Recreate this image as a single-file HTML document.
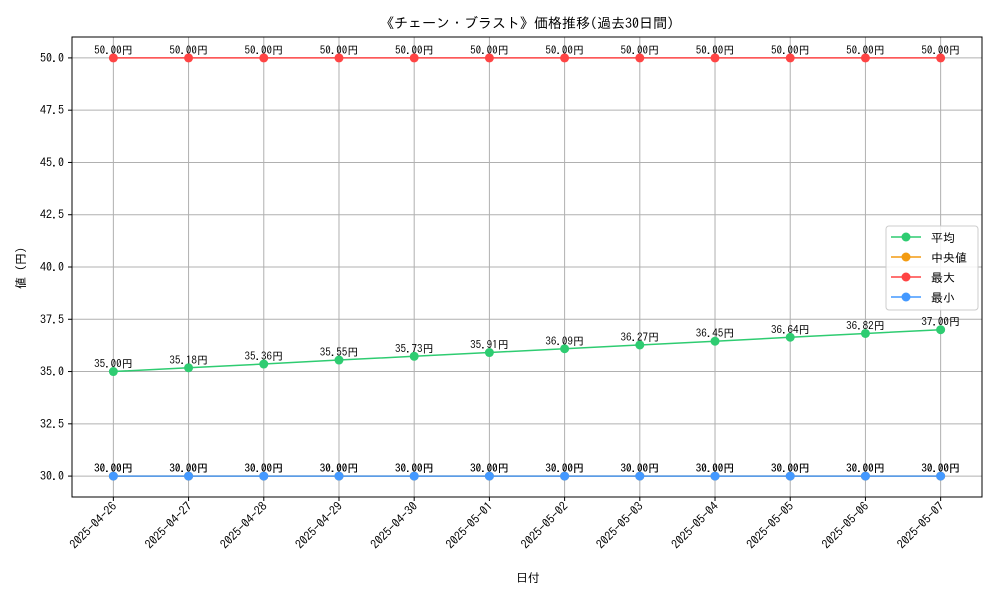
<!DOCTYPE html>
<html><head><meta charset="utf-8"><style>
body{margin:0;background:#fff}
svg{font-family:"IPAGothic","Noto Sans CJK JP",monospace;}
</style></head><body>
<svg id="c" width="1000" height="600">
<rect width="1000" height="600" fill="#fff"/>
</svg>
<script>
const dates=["2025-04-26","2025-04-27","2025-04-28","2025-04-29","2025-04-30","2025-05-01","2025-05-02","2025-05-03","2025-05-04","2025-05-05","2025-05-06","2025-05-07"];
const avgVals=[35.00,35.18,35.36,35.55,35.73,35.91,36.09,36.27,36.45,36.64,36.82,37.00];
const medVals=[30,30,30,30,30,30,30,30,30,30,30,30];
const maxVals=[50,50,50,50,50,50,50,50,50,50,50,50];
const minVals=[30,30,30,30,30,30,30,30,30,30,30,30];
const yTicks=[30.0,32.5,35.0,37.5,40.0,42.5,45.0,47.5,50.0];
const svg=document.getElementById('c');const NS="http://www.w3.org/2000/svg";
const L=72,R=982,T=37,B=497,ymin=29,ymax=51;
const n=dates.length;const step=(R-L)/(n-1+1.1);
const X=i=>L+step*(i+0.55);
const Y=v=>B-(v-ymin)/(ymax-ymin)*(B-T);
function mk(tag,a,p){const e=document.createElementNS(NS,tag);for(const k in a)e.setAttribute(k,a[k]);(p||svg).appendChild(e);return e;}
// grid
yTicks.forEach(v=>{const g=mk('line',{x1:L,x2:R,y1:Y(v),y2:Y(v),stroke:'#b0b0b0','stroke-width':1});


const t=mk('text',{x:L-8,y:Y(v)+4,'text-anchor':'end','font-size':12});t.textContent=v.toFixed(1);


mk('line',{x1:L-4,x2:L,y1:Y(v),y2:Y(v),stroke:'#000'});});
dates.forEach((d,i)=>{const g=mk('line',{x1:X(i),x2:X(i),y1:T,y2:B,stroke:'#b0b0b0','stroke-width':1});


mk('line',{x1:X(i),x2:X(i),y1:B,y2:B+4,stroke:'#000'});
const t=mk('text',{x:X(i)+4,y:B+10,'text-anchor':'end','font-size':12,transform:`rotate(-45 ${X(i)+4} ${B+10})`});t.textContent=d;

});
const frame=mk('rect',{x:L,y:T,width:R-L,height:B-T,fill:'none',stroke:'#000','stroke-width':1});


function series(vals,color,name){const g=mk('g',{});


mk('polyline',{points:vals.map((v,i)=>X(i)+','+Y(v)).join(' '),fill:'none',stroke:color,'stroke-width':1.5},g);
vals.forEach((v,i)=>{const c=mk('circle',{cx:X(i),cy:Y(v),r:4.5,fill:color},g);


const t=mk('text',{x:X(i),y:Y(v)-4,'text-anchor':'middle','font-size':11},g);t.textContent=v.toFixed(2)+'円';

});}
series(avgVals,'#2ecc71','average');
series(medVals,'#f39c12','median');
series(maxVals,'#ff4444','max');
series(minVals,'#4499ff','min');
// title/labels
let t=mk('text',{x:527,y:28,'text-anchor':'middle','font-size':14});t.textContent='《チェーン・ブラスト》価格推移(過去30日間)';


t=mk('text',{x:528,y:582,'text-anchor':'middle','font-size':12});t.textContent='日付';


t=mk('text',{x:25,y:268,'text-anchor':'middle','font-size':12,transform:'rotate(-90 25 268)'});t.textContent='値 (円)';


// legend
const lg=mk('g',{});


mk('rect',{x:886,y:226,width:92,height:84,rx:3,fill:'#fff','fill-opacity':0.85,stroke:'#ccc'},lg);
[['平均','#2ecc71'],[' 中央値','#f39c12'],['最大','#ff4444'],['最小','#4499ff']].forEach((e,i)=>{const y=237+i*20;
const it=mk('g',{},lg);


mk('line',{x1:891,x2:921,y1:y,y2:y,stroke:e[1],'stroke-width':1.5},it);
mk('circle',{cx:906,cy:y,r:4.5,fill:e[1]},it);
const tt=mk('text',{x:931,y:y+5,'font-size':12},it);tt.textContent=e[0];});
</script>
</body></html>
